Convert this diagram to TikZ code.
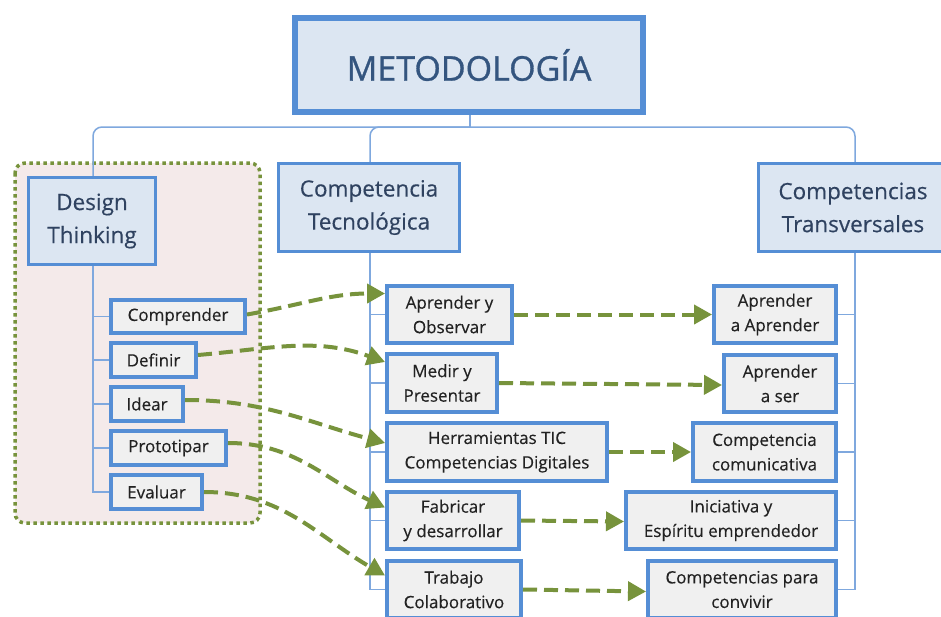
\documentclass[tikz,border=0pt]{standalone}
\usepackage{fontspec}
\setmainfont{Open Sans}[FakeBold=0.35]
\newfontfamily\titlefont{Open Sans}[FakeBold=0.9]
\usetikzlibrary{arrows.meta}
\definecolor{boxblue}{HTML}{558ED5}
\definecolor{lightfill}{HTML}{DCE6F2}
\definecolor{childfill}{HTML}{F0F0F0}
\definecolor{leafgreen}{HTML}{77933C}
\definecolor{groupfill}{HTML}{F4EAEA}
\definecolor{treeline}{HTML}{7FA8DE}
\definecolor{titletext}{HTML}{34557F}
\definecolor{headtext}{HTML}{2F4260}
\definecolor{childtext}{HTML}{222222}
\tikzset{
  titlebox/.style={draw=boxblue, line width=6pt, fill=lightfill, text=titletext,
    inner sep=0pt, font=\titlefont\fontsize{34}{40}\selectfont},
  headbox/.style={draw=boxblue, line width=3pt, fill=lightfill, text=headtext,
    inner sep=0pt, align=center, font=\fontsize{22.5}{33}\selectfont},
  childbox/.style={draw=boxblue, line width=4pt, fill=childfill, text=childtext,
    inner sep=0pt, align=center, font=\fontsize{17}{24.5}\selectfont},
  tree/.style={draw=treeline, line width=1.5pt},
  link/.style={draw=leafgreen, line width=4pt, dash pattern=on 14pt off 7pt,
    -{Triangle[length=18pt,width=19pt,fill=leafgreen]}},
  group/.style={draw=leafgreen, fill=groupfill, line width=3.5pt,
    dash pattern=on 3.5pt off 3.5pt, rounded corners=10pt}
}
\begin{document}
\begin{tikzpicture}[x=1pt, y=-1pt]
\clip (0,0) rectangle (941,616);
\fill[white] (0,0) rectangle (941,616);

% Design Thinking group frame
\draw[group] (15,163) rectangle (260,523);

% top level tree
\coordinate (hub) at (470,127);
\path[tree] (470,115) -- (hub);
\path[tree, rounded corners=9pt] (hub) -| (93,176);
\path[tree, rounded corners=9pt] (hub) -| (370,162);
\path[tree, rounded corners=9pt] (hub) -| (855,162);

% title and main branches
\node[titlebox, minimum width=348pt, minimum height=94pt] (title) at (469,65) {METODOLOGÍA};
\node[headbox, minimum width=127pt, minimum height=87pt] (dt) at (92,221) {Design\\Thinking};
\node[headbox, minimum width=181pt, minimum height=88pt] (ct) at (369,207.5) {Competencia\\Tecnológica};
\node[headbox, minimum width=190pt, minimum height=88pt] (tr) at (853,207.5) {Competencias\\Transversales};

% branch trunks
\coordinate (dtEnd) at (93,492);
\coordinate (ctEnd) at (370,589);
\coordinate (trEnd) at (855,590);
\path[tree] (93,266) -- (dtEnd);
\path[tree] (370,253) -- (ctEnd);
\path[tree] (855,253) -- (trEnd);

% Design Thinking steps
\node[childbox, anchor=west, minimum width=134pt, minimum height=33pt] (d1) at (109,316.5) {Comprender};
\node[childbox, anchor=west, minimum width=85pt, minimum height=34pt] (d2) at (109,360) {Definir};
\node[childbox, anchor=west, minimum width=72pt, minimum height=34pt] (d3) at (109,404) {Idear};
\node[childbox, anchor=west, minimum width=115pt, minimum height=34pt] (d4) at (109,448) {Prototipar};
\node[childbox, anchor=west, minimum width=91pt, minimum height=34pt] (d5) at (109,492) {Evaluar};

% technological competence items
\node[childbox, anchor=west, minimum width=125pt, minimum height=57pt] (c1) at (385,314.5) {Aprender y\\Observar};
\node[childbox, anchor=west, minimum width=110pt, minimum height=58pt] (c2) at (385,383) {Medir y\\Presentar};
\node[childbox, anchor=west, minimum width=220pt, minimum height=58pt] (c3) at (385,452) {Herramientas TIC\\Competencias Digitales};
\node[childbox, anchor=west, minimum width=132pt, minimum height=57pt] (c4) at (385,520.5) {Fabricar\\y desarrollar};
\node[childbox, anchor=west, minimum width=134pt, minimum height=57pt] (c5) at (385,589.5) {Trabajo\\Colaborativo};

% transversal competence items
\node[childbox, anchor=east, minimum width=122pt, minimum height=57pt] (t1) at (838,314.5) {Aprender\\a Aprender};
\node[childbox, anchor=east, minimum width=112pt, minimum height=57pt] (t2) at (838,383.5) {Aprender\\a ser};
\node[childbox, anchor=east, minimum width=143pt, minimum height=58pt] (t3) at (838,452) {Competencia\\comunicativa};
\node[childbox, anchor=east, minimum width=210pt, minimum height=57pt] (t4) at (838,520.5) {Iniciativa y\\Espíritu emprendedor};
\node[childbox, anchor=east, minimum width=188pt, minimum height=57pt] (t5) at (838,589.5) {Competencias para\\convivir};

% ticks from trunks to items
\foreach \n in {d1,d2,d3,d4,d5} \path[tree] (93,266) |- (\n.west);
\foreach \n in {c1,c2,c3,c4,c5} \path[tree] (370,253) |- (\n.west);
\foreach \n in {t1,t2,t3,t4,t5} \path[tree] (855,253) |- (\n.east);

% links: Design Thinking to technological competence
\draw[link] ([yshift=2pt]d1.east) to[out=10, in=180] ([yshift=21pt]c1.west);
\draw[link] ([yshift=5pt]d2.east) to[out=5, in=160] ([yshift=21pt]c2.west);
\draw[link] ([yshift=4pt]d3.east) to[out=0, in=165] ([yshift=9pt]c3.west);
\draw[link] ([yshift=5pt]d4.east) to[out=0, in=155] ([yshift=13pt]c4.west);
\draw[link] (d5.east) to[out=0, in=150] ([yshift=14pt]c5.west);

% links: technological to transversal competences
\draw[link] (c1.east) -- (t1.west);
\draw[link] (c2.east) -- ([yshift=-1.5pt]t2.west);
\draw[link] (c3.east) -- (t3.west);
\draw[link] (c4.east) -- ([yshift=-1pt]t4.west);
\draw[link] (c5.east) -- ([yshift=-2pt]t5.west);
\end{tikzpicture}
\end{document}
